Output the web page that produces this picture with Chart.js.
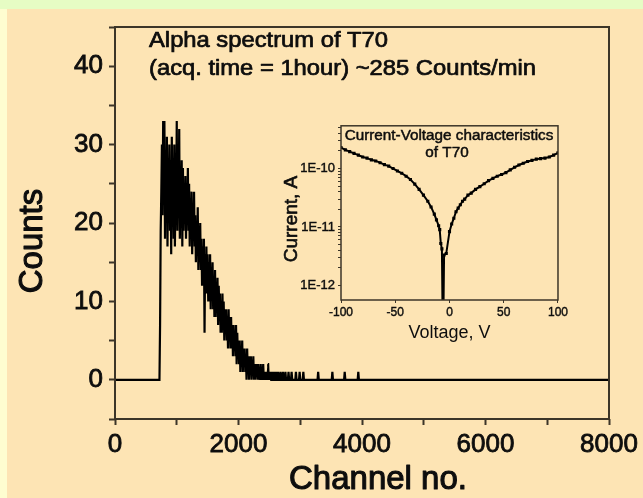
<!DOCTYPE html>
<html>
<head>
<meta charset="utf-8">
<script src="https://cdn.jsdelivr.net/npm/chart.js@4.4.1/dist/chart.umd.min.js"></script>
<style>
  body { margin: 0; width: 643px; height: 498px; position: relative; overflow: hidden; background: #fde4b4; font-family: 'Liberation Sans', Arial, sans-serif; }
  #topBand { position: absolute; left: 0; top: 0; width: 643px; height: 9px; background: #e6fcc4; }
  #leftBand { position: absolute; left: 0; top: 9px; width: 7px; height: 489px; background: #fefdd0; }
  #main { position: absolute; left: 0; top: 0; }
  #inset { position: absolute; left: 270px; top: 115px; }
</style>
</head>
<body>
<div id="topBand"></div>
<div id="leftBand"></div>
<canvas id="main" width="643" height="498"></canvas>
<canvas id="inset" width="300" height="230"></canvas>
<script>
// alpha spectrum: counts per channel, channels 700..4000 in steps of 10
const channelStart = 700;
const channelStep = 10;
const counts = [
  0, 0, 0, 7, 19, 24, 30, 21, 33, 25,
  33, 18, 29, 20, 31, 17, 27, 22, 30, 19,
  28, 16, 31, 21, 26, 18, 30, 17, 25, 20,
  33, 19, 27, 22, 32, 18, 26, 20, 28, 17,
  27, 19, 25, 21, 26, 18, 24, 20, 27, 19,
  25, 17, 23, 19, 24, 16, 22, 18, 24, 17,
  21, 15, 20, 16, 22, 14, 19, 16, 20, 14,
  18, 12, 17, 12, 18, 6, 16, 11, 17, 11,
  16, 10, 15, 10, 16, 9, 14, 11, 15, 9,
  13, 8, 14, 8, 12, 9, 13, 7, 12, 8,
  11, 6, 10, 6, 11, 7, 10, 5, 9, 6,
  9, 5, 8, 4, 9, 5, 8, 4, 8, 4,
  7, 3, 7, 4, 6, 3, 7, 2, 6, 3,
  5, 2, 5, 1, 4, 2, 5, 1, 4, 2,
  4, 1, 3, 0, 4, 1, 3, 0, 3, 1,
  3, 0, 2, 1, 3, 0, 2, 0, 2, 1,
  2, 0, 2, 0, 1, 0, 2, 0, 1, 0,
  2, 0, 1, 0, 1, 0, 1, 0, 2, 0,
  1, 0, 1, 0, 0, 1, 0, 0, 1, 0,
  0, 1, 0, 0, 1, 0, 0, 0, 1, 0,
  0, 0, 1, 0, 0, 0, 1, 0, 0, 0,
  0, 1, 0, 0, 0, 0, 1, 0, 0, 0,
  0, 0, 0, 1, 0, 0, 0, 0, 0, 1,
  0, 0, 0, 0, 0, 1, 0, 0, 0, 0,
  0, 0, 0, 0, 0, 0, 0, 0, 0, 0,
  0, 0, 0, 0, 0, 0, 0, 0, 0, 1,
  0, 0, 0, 0, 0, 0, 0, 0, 0, 0,
  0, 0, 0, 0, 0, 0, 0, 0, 0, 0,
  0, 0, 1, 0, 0, 0, 0, 0, 0, 0,
  0, 0, 0, 0, 0, 0, 0, 0, 0, 0,
  0, 0, 1, 0, 0, 0, 0, 0, 0, 0,
  0, 0, 0, 0, 0, 0, 0, 0, 0, 0,
  0, 0, 0, 0, 1, 0, 0, 0, 0, 0,
  0
];
const channelMin = 0;
const channelMax = 8000;

// inset: current-voltage characteristics
const voltages = [
  -100, -96, -92, -88, -84, -80, -76, -72, -68, -64, -60, -56, -52, -48, -44, -40,
  -36, -32, -28, -24, -20, -17, -14, -12, -10, -9, -8, -7, -6, -5, -3, 0,
  2, 4, 6, 8, 10, 12, 14, 17, 20, 24, 28, 32, 36, 40, 44, 48,
  52, 56, 60, 64, 68, 72, 76, 80, 84, 88, 92, 96, 100
];
const currents = [
  2.29e-10, 2.09e-10, 1.95e-10, 1.82e-10, 1.70e-10, 1.58e-10, 1.51e-10, 1.41e-10,
  1.35e-10, 1.26e-10, 1.17e-10, 1.10e-10, 1.00e-10, 9.1e-11, 8.3e-11, 7.4e-11,
  6.5e-11, 5.4e-11, 4.4e-11, 3.5e-11, 2.75e-11, 2.2e-11, 1.66e-11, 1.32e-11,
  1.05e-11, 9.0e-12, 5.2e-12, 4.2e-12, 6e-14, 3.3e-12, 3.5e-12, 8.3e-12,
  1.12e-11, 1.41e-11, 1.82e-11, 2.1e-11, 2.4e-11, 2.75e-11, 3.0e-11, 3.5e-11,
  3.8e-11, 4.4e-11, 4.9e-11, 5.5e-11, 6.2e-11, 6.8e-11, 7.4e-11, 7.9e-11,
  8.5e-11, 9.5e-11, 1.05e-10, 1.15e-10, 1.23e-10, 1.32e-10, 1.38e-10, 1.45e-10,
  1.48e-10, 1.51e-10, 1.58e-10, 1.70e-10, 1.86e-10
];
const insetDecades = [1e-12, 1e-11, 1e-10];

const ink = '#0d0d0d';
const frameColor = '#3c3528';
const fontFamily = "'Liberation Sans', Arial, sans-serif";

function stretchText(ctx, text, x, y, sx, align, rot) {
  ctx.save();
  ctx.translate(x, y);
  if (rot) ctx.rotate(rot);
  ctx.scale(sx, 1);
  ctx.textAlign = align;
  ctx.textBaseline = 'alphabetic';
  ctx.strokeText(text, 0, 0);
  ctx.fillText(text, 0, 0);
  ctx.restore();
}

// frame round the plot area plus free-standing texts
const framePlugin = {
  id: 'frame',
  afterDraw(chart, args, opts) {
    const { ctx, chartArea: a } = chart;
    ctx.save();
    ctx.strokeStyle = frameColor;
    ctx.lineWidth = opts.width;
    ctx.strokeRect(a.left, a.top, a.right - a.left, a.bottom - a.top);
    ctx.fillStyle = ink;
    ctx.strokeStyle = ink;
    ctx.lineJoin = 'round';
    (opts.lines || []).forEach(l => {
      ctx.font = l.size + 'px ' + fontFamily;
      ctx.lineWidth = l.size / 30;
      stretchText(ctx, l.text, l.x, l.y, l.sx, l.align, l.rot);
    });
    ctx.restore();
  }
};

let spectrumData = [{ x: channelMin, y: 0 }];
counts.forEach((c, i) => spectrumData.push({ x: channelStart + i * channelStep, y: c }));
spectrumData.push({ x: channelMax, y: 0 });

let mainChart = new Chart(document.getElementById('main'), {
  type: 'line',
  data: {
    datasets: [
      {
        data: spectrumData,
        borderColor: '#000000',
        borderWidth: 2.2,
        pointRadius: 0,
        tension: 0.000001, // keeps every zig-zag segment (no fast path)
      },
    ],
  },
  options: {
    responsive: false,
    animation: false,
    layout: { padding: { left: 7, top: 27, right: 34, bottom: 0 } },
    plugins: {
      legend: { display: false },
      tooltip: { enabled: false },
      frame: {
        width: 2,
        lines: [
          { text: 'Alpha spectrum of T70', x: 149, y: 47, size: 22, sx: 1.08, align: 'left' },
          { text: '(acq. time = 1hour) ~285 Counts/min', x: 149, y: 75, size: 22, sx: 1.08, align: 'left' },
          { text: 'Counts', x: 42, y: 241, size: 33, sx: 1, align: 'center', rot: -Math.PI / 2 },
          { text: 'Channel no.', x: 378, y: 489, size: 33, sx: 1, align: 'center' },
        ],
      },
    },
    scales: {
      x: {
        type: 'linear',
        min: channelMin,
        max: channelMax,
        afterFit: s => { s.height = 79; },
        ticks: {
          stepSize: 1000,
          autoSkip: false,
          maxRotation: 0,
          padding: 4,
          color: ink,
          textStrokeColor: ink,
          textStrokeWidth: 0.8,
          font: { family: fontFamily, size: 26 },
          callback: v => (v % 2000 === 0 ? String(v) : ''),
        },
        grid: { drawOnChartArea: false, tickLength: 6, tickColor: frameColor, tickWidth: 2 },
        border: { display: false },
      },
      y: {
        min: -5,
        max: 45,
        afterFit: s => { s.width = 108; },
        ticks: {
          stepSize: 5,
          autoSkip: false,
          padding: 6,
          color: ink,
          textStrokeColor: ink,
          textStrokeWidth: 0.8,
          font: { family: fontFamily, size: 26 },
          callback: v => (v % 10 === 0 ? String(v) : ''),
        },
        grid: { drawOnChartArea: false, tickLength: 6, tickColor: frameColor, tickWidth: 2 },
        border: { display: false },
      },
    },
  },
  plugins: [framePlugin],
});

let insetChart = new Chart(document.getElementById('inset'), {
  type: 'line',
  data: {
    datasets: [
      {
        data: voltages.map((v, i) => ({ x: v, y: currents[i] })),
        borderColor: '#000000',
        borderWidth: 2,
        pointStyle: 'rect',
        pointRadius: 2.2,
        pointBackgroundColor: '#000000',
        pointBorderWidth: 0,
        tension: 0,
      },
    ],
  },
  options: {
    responsive: false,
    animation: false,
    layout: { padding: { left: 0, top: 9, right: 11, bottom: 0 } },
    plugins: {
      legend: { display: false },
      tooltip: { enabled: false },
      frame: {
        width: 1.5,
        lines: [
          { text: 'Current-Voltage characteristics', x: 179, y: 25, size: 14, sx: 1.09, align: 'center' },
          { text: 'of T70', x: 177, y: 42, size: 14, sx: 1.09, align: 'center' },
          { text: 'Current, A', x: 27, y: 104, size: 19, sx: 1, align: 'center', rot: -Math.PI / 2 },
        ],
      },
    },
    scales: {
      x: {
        type: 'linear',
        min: -100,
        max: 100,
        afterFit: s => { s.height = 45; },
        ticks: { stepSize: 50, autoSkip: false, maxRotation: 0, padding: 2, color: ink, textStrokeColor: ink, textStrokeWidth: 0.4, font: { family: fontFamily, size: 12 } },
        grid: { drawOnChartArea: false, tickLength: 3, tickColor: frameColor, tickWidth: 1 },
        border: { display: false },
        title: { display: true, text: 'Voltage, V', color: ink, font: { family: fontFamily, size: 18 }, padding: { top: 0, bottom: 1 } },
      },
      y: {
        type: 'logarithmic',
        min: 5.6e-13,
        max: 5.4e-10,
        afterFit: s => { s.width = 71; },
        afterBuildTicks: s => {
          let t = [];
          insetDecades.forEach(d => {
            for (let m = 1; m < 10; m++) {
              if (d * m >= s.min && d * m <= s.max) t.push({ value: d * m, major: m === 1 });
            }
          });
          s.ticks = t;
        },
        ticks: {
          autoSkip: false,
          padding: 3,
          color: ink,
          textStrokeColor: ink,
          textStrokeWidth: 0.4,
          font: { family: fontFamily, size: 13 },
          callback: v => (insetDecades.some(d => Math.abs(v / d - 1) < 1e-6) ? '1E' + Math.round(Math.log10(v)) : ''),
        },
        grid: { drawOnChartArea: false, tickLength: 3, tickColor: frameColor, tickWidth: 1 },
        border: { display: false },
      },
    },
  },
  plugins: [framePlugin],
});
</script>
</body>
</html>
